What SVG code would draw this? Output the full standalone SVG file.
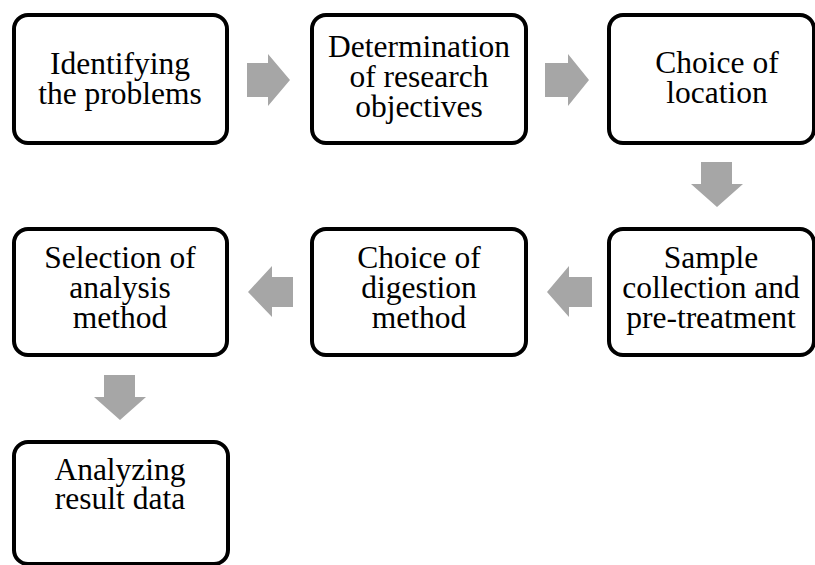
<svg xmlns="http://www.w3.org/2000/svg" width="815" height="565" viewBox="0 0 815 565">
<style>
.box{fill:#fff;stroke:#000;stroke-width:4}
.t{font-family:"Liberation Serif","Times New Roman",serif;font-size:31.5px;fill:#000;text-anchor:middle}
.arr{fill:#a6a6a6}
</style>
<rect width="815" height="565" fill="#fff"/>
<g id="connectors">
<polygon class="arr" points="247,63 268,63 268,54 290,80 268,106 268,97 247,97"/>
<polygon class="arr" points="545,63 568,63 568,54 589,80 568,106 568,97 545,97"/>
<polygon class="arr" points="701,162 732,162 732,184 743,184 717,207 691,184 701,184"/>
<polygon class="arr" points="592,277 569,277 569,266 547,292 569,317 569,307 592,307"/>
<polygon class="arr" points="293,277 272,277 272,266 248,292 272,317 272,307 293,307"/>
<polygon class="arr" points="104,375 135,375 135,397 146,397 120,420 94,397 104,397"/>
</g>
<g id="n1">
<rect class="box" x="14" y="15" width="213" height="128" rx="14"/>
<text class="t" x="120" y="74">Identifying</text>
<text class="t" x="120" y="104">the problems</text>
</g>
<g id="n2">
<rect class="box" x="312" y="15" width="214" height="128" rx="14"/>
<text class="t" x="419" y="57">Determination</text>
<text class="t" x="419" y="87">of research</text>
<text class="t" x="419" y="117">objectives</text>
</g>
<g id="n3">
<rect class="box" x="609" y="15" width="205" height="128" rx="14"/>
<text class="t" x="717" y="73">Choice of</text>
<text class="t" x="717" y="103">location</text>
</g>
<g id="n4">
<rect class="box" x="609" y="229" width="205" height="126" rx="14"/>
<text class="t" x="711" y="268">Sample</text>
<text class="t" x="711" y="298">collection and</text>
<text class="t" x="711" y="328">pre-treatment</text>
</g>
<g id="n5">
<rect class="box" x="312" y="229" width="214" height="126" rx="14"/>
<text class="t" x="419" y="268">Choice of</text>
<text class="t" x="419" y="298">digestion</text>
<text class="t" x="419" y="328">method</text>
</g>
<g id="n6">
<rect class="box" x="14" y="229" width="213" height="126" rx="14"/>
<text class="t" x="120" y="268">Selection of</text>
<text class="t" x="120" y="298">analysis</text>
<text class="t" x="120" y="328">method</text>
</g>
<g id="n7">
<rect class="box" x="14" y="442" width="214" height="122" rx="14"/>
<text class="t" x="120" y="480">Analyzing</text>
<text class="t" x="120" y="509">result data</text>
</g>
</svg>
